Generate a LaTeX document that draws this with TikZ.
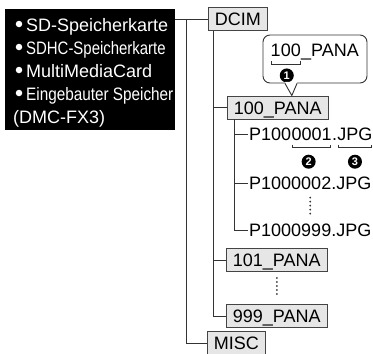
\documentclass[tikz,border=0pt]{standalone}
\usepackage{fontspec}
\setmainfont{Liberation Sans}
\usepackage{graphicx}
\usetikzlibrary{positioning,calc}
\definecolor{tree-line}{HTML}{333333}
\definecolor{box-line}{HTML}{444444}
\definecolor{box-fill}{HTML}{E6E6E6}

\tikzset{
  dirbox/.style={draw=box-line, fill=box-fill, line width=0.9bp, anchor=west,
    inner xsep=6.5bp, inner ysep=5bp, text height=13bp, text depth=0bp},
  filetxt/.style={inner sep=0pt, text height=13bp, text depth=0bp},
  cardtxt/.style={text=white, inner sep=0pt, anchor=base west},
  cardbul/.style={circle, fill=white, inner sep=0pt, minimum size=6.5bp},
  numdot/.style={circle, fill=black, text=white, inner sep=0pt, minimum size=14bp,
    font=\bfseries\fontsize{11bp}{11bp}\selectfont},
  tree/.style={draw=tree-line, line width=0.9bp},
  vdots/.style={draw=tree-line, line width=2bp, line cap=round,
    dash pattern=on 0bp off 4bp}
}

\begin{document}
\begin{tikzpicture}[x=1bp, y=-1bp, font=\fontsize{18bp}{22bp}\selectfont]
      \useasboundingbox (0,0) rectangle (373,354);
      % storage media
      \node[fill=black, inner sep=0pt, minimum width=170bp, minimum height=121bp] (cards) at (90,69.5) {};
      \node[cardbul] (b1) at (19,24) {};
      \node[cardtxt] (c1) at (26,31) {SD-Speicherkarte};
      \node[cardbul] (b2) at (19,47) {};
      \node[cardtxt] (c2) at (26,54) {\scalebox{0.83}[1]{SDHC-Speicherkarte}};
      \node[cardbul] (b3) at (19,70) {};
      \node[cardtxt] (c3) at (26,77) {MultiMediaCard};
      \node[cardbul] (b4) at (19,93) {};
      \node[cardtxt] (c4) at (26,100) {\scalebox{0.85}[1]{Eingebauter Speicher}};
      \node[cardtxt] (c5) at (13,123) {(DMC-FX3)};
      % top level folders
      \node[dirbox] (dcim) at (208,19) {DCIM};
      \node[dirbox] (misc) at (207,343) {MISC};
      \coordinate (root) at ($(cards.east |- dcim.west)+(11,0)$);
      \draw[tree] (cards.east |- dcim.west) -- (dcim.west);
      \draw[tree] (root) |- (misc.west);
      % picture folders
      \node[dirbox] (p100) at (227,107.5) {100\_PANA};
      \node[dirbox] (p101) at (226,260) {101\_PANA};
      \node[dirbox] (p999) at (226,316) {999\_PANA};
      \coordinate (dtrunk) at ($(dcim.south west)+(5,0)$);
      \draw[tree] (dtrunk) |- (p999.west);
      \draw[tree] (dtrunk |- p100.west) -- (p100.west);
      \draw[tree] (dtrunk |- p101.west) -- (p101.west);
      \draw[vdots] ($(p101.south)+(0,6)$) -- ($(p999.north)+(0,-7)$);
      % files
      \node[filetxt, anchor=west] (f1a) at (249,134) {P100};
      \node[filetxt, right=0pt of f1a] (f1b) {0001};
      \node[filetxt, right=0pt of f1b] (f1c) {.};
      \node[filetxt, right=0pt of f1c] (f1d) {JPG};
      \node[filetxt, anchor=west] (f2) at (249,183) {P1000002.JPG};
      \node[filetxt, anchor=west] (f999) at (249,230) {P1000999.JPG};
      \coordinate (ftrunk) at ($(p100.south west)+(7,0)$);
      \draw[tree] (ftrunk) |- ($(f999.west)+(-1,0)$);
      \draw[tree] (ftrunk |- f1a.west) -- ($(f1a.west)+(-1,0)$);
      \draw[tree] (ftrunk |- f2.west) -- ($(f2.west)+(-1,0)$);
      \draw[vdots] ($(f2.south)+(0,8)$) -- ($(f999.north)+(0,-9)$);
      % file name parts
      \draw[tree] ($(f1b.south west)+(1,4)$) -- ++(0,3) -| ($(f1b.south east)+(-1,4)$);
      \draw[tree] ($(f1d.south west)+(1,4)$) -- ++(0,3) -| ($(f1d.south east)+(-1,4)$);
      \node[numdot] (n2) at ($(f1b.south)+(-3,21)$) {2};
      \node[numdot] (n3) at ($(f1d.south)+(0,21)$) {3};
      % callout for folder name
      \node[draw=tree-line, line width=0.9bp, rounded corners=7bp, fill=white, inner sep=0pt,
            minimum width=104bp, minimum height=48bp] (callout) at (315,59) {};
      \node[filetxt, anchor=north west] (c100) at ($(callout.north west)+(8,8.5)$) {100};
      \node[filetxt, right=0pt of c100] (cpana) {\_PANA};
      \draw[tree] ($(c100.south west)+(1,5)$) -- ++(0,3) -| ($(c100.south east)+(-1,5)$);
      \node[numdot] (n1) at ($(c100.south)+(1,19)$) {1};
      \coordinate (tip) at ($(p100.north)+(14,0)$);
      \fill[white] ($(callout.south)+(-30,-1.5)$) -- (tip) -- ($(callout.south)+(-18,-1.5)$) -- cycle;
      \draw[tree] ($(callout.south)+(-30,0)$) -- (tip) -- ($(callout.south)+(-18,0)$);
\end{tikzpicture}
\end{document}
